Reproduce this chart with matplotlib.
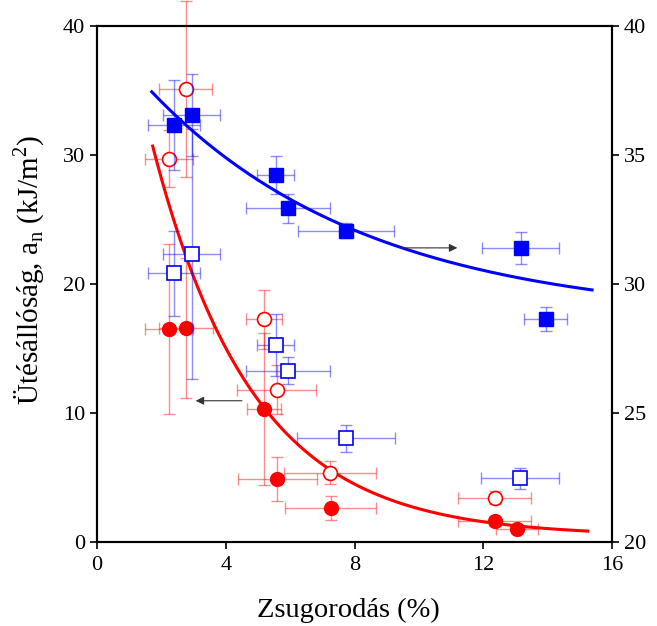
import numpy as np
import matplotlib
matplotlib.use("Agg")
from matplotlib import pyplot as plt

plt.rcParams['font.family'] = ['Liberation Serif', 'DejaVu Serif']
plt.rcParams['mathtext.fontset'] = 'custom'
plt.rcParams['mathtext.rm'] = 'Liberation Serif'

# red, filled circles (left axis)
rf_x = [2.24, 2.76, 5.19, 5.60, 7.26, 12.35, 13.06]
rf_y = [16.5, 16.6, 10.33, 4.86, 2.63, 1.65, 0.98]
rf_xerr = [0.75, 0.83, 0.53, 1.23, 1.42, 1.13, 0.65]
rf_yerr = [6.6, 5.4, 5.9, 1.7, 0.9, 0.4, 0.3]

# red, open circles (left axis)
ro_x = [2.75, 2.24, 5.19, 5.58, 7.24, 12.35]
ro_y = [35.1, 29.7, 17.26, 11.8, 5.37, 3.44]
ro_xerr = [0.83, 0.75, 0.55, 1.23, 1.42, 1.13]
ro_yerr = [6.8, 2.2, 2.3, 1.9, 0.9, 0.5]

# blue, filled squares (right axis)
bf_x = [2.39, 2.94, 5.55, 5.94, 7.73, 13.16, 13.94]
bf_y = [36.16, 36.55, 34.22, 32.93, 32.07, 31.38, 28.63]
bf_xerr = [0.82, 0.88, 0.58, 1.30, 1.50, 1.20, 0.67]
bf_yerr = [1.75, 1.6, 0.73, 0.56, 0.3, 0.62, 0.46]

# blue, open squares (right axis)
bo_x = [2.39, 2.94, 5.55, 5.94, 7.73, 13.14]
bo_y = [30.41, 31.16, 27.64, 26.64, 24.02, 22.47]
bo_xerr = [0.82, 0.88, 0.58, 1.30, 1.53, 1.20]
bo_yerr = [1.64, 4.84, 1.2, 0.53, 0.52, 0.4]

# exponential decay fits: y = y0 + A*exp(-x/t), drawn from x0 to x1
red_fit = (0.45, 52.7, 3.115, 1.73, 15.25)
blue_fit = (28.6, 11.38, 6.76, 1.70, 15.38)

fig = plt.figure(figsize=(6.57, 6.26), dpi=100)
ax = fig.add_axes([97/657, 84/626, 515/657, 516/626])
ax2 = ax.twinx()

red = '#ff0000'
blue = '#0000ff'
ekw = dict(capsize=4, elinewidth=1, capthick=1, alpha=0.45)

eb = ax.errorbar(ro_x, ro_y, xerr=ro_xerr, yerr=ro_yerr, fmt='none', ecolor=red, **ekw)
for c in eb.lines[1] + eb.lines[2]:
    c.set_clip_on(False)
ax.errorbar(rf_x, rf_y, xerr=rf_xerr, yerr=rf_yerr, fmt='none', ecolor=red, **ekw)
ax2.errorbar(bo_x, bo_y, xerr=bo_xerr, yerr=bo_yerr, fmt='none', ecolor=blue, **ekw)
ax2.errorbar(bf_x, bf_y, xerr=bf_xerr, yerr=bf_yerr, fmt='none', ecolor=blue, **ekw)

y0, A, t, x0, x1 = red_fit
xs = np.linspace(x0, x1, 200)
ax.plot(xs, y0 + A*np.exp(-xs/t), color=red, lw=2.2)
y0, A, t, x0, x1 = blue_fit
xs = np.linspace(x0, x1, 200)
ax2.plot(xs, y0 + A*np.exp(-xs/t), color=blue, lw=2.2)

ax.plot(ro_x, ro_y, 'o', ms=10, mfc='white', mec=red, mew=1.2)
ax.plot(rf_x, rf_y, 'o', ms=10, mfc=red, mec=red)
ax2.plot(bo_x, bo_y, 's', ms=10, mfc='white', mec=blue, mew=1.2)
ax2.plot(bf_x, bf_y, 's', ms=10, mfc=blue, mec=blue)

ax.annotate('', xy=(2.98, 10.95), xytext=(4.59, 10.95),
            arrowprops=dict(arrowstyle='-|>', color='#333333', lw=0.8, mutation_scale=12))
ax2.annotate('', xy=(11.28, 31.4), xytext=(9.4, 31.4),
             arrowprops=dict(arrowstyle='-|>', color='#333333', lw=0.8, mutation_scale=12))

ax.set_xlim(0, 16)
ax.set_ylim(0, 40)
ax2.set_ylim(20, 40)
ax.set_xticks([0, 4, 8, 12, 16])
ax.set_yticks([0, 10, 20, 30, 40])
ax2.set_yticks([20, 25, 30, 35, 40])
for a in (ax, ax2):
    a.tick_params(direction='out', length=5, width=1.2, labelsize=16)
    for s in a.spines.values():
        s.set_linewidth(1.5)
ax.tick_params(axis='x', pad=5)

ax.set_xlabel('Zsugorodás (%)', fontsize=20.5)
ax.set_ylabel('Ütésállóság, a$_\\mathrm{n}$ (kJ/m$^2$)', fontsize=21)
ax.xaxis.set_label_coords(0.489, -0.1085)
ax.yaxis.set_label_coords(-0.097, 0.527)

fig.savefig('out.png', dpi=100)
